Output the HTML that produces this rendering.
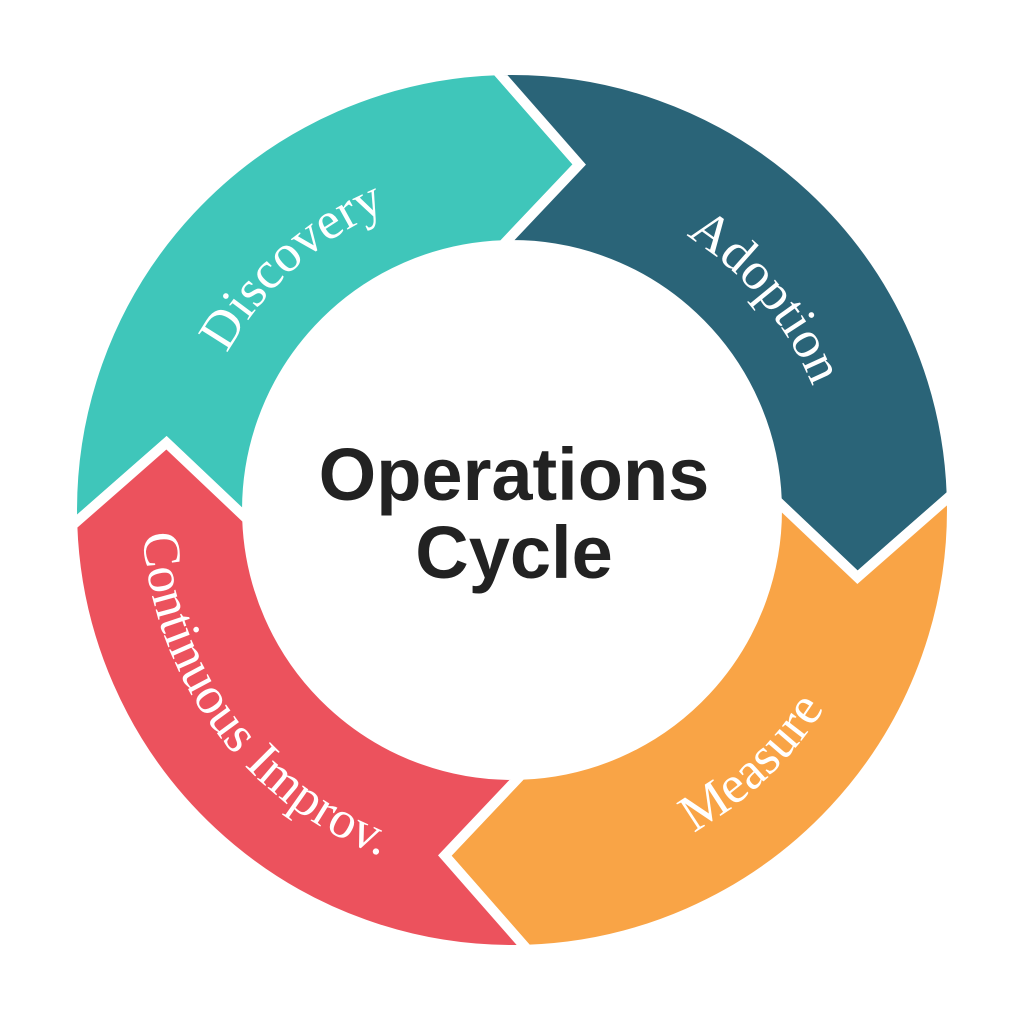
<!DOCTYPE html>
<html><head><meta charset="utf-8"><style>
html,body{margin:0;padding:0;background:#fff;}
svg{display:block;}
</style></head><body>
<svg width="1024" height="1024" viewBox="0 0 1024 1024" xmlns="http://www.w3.org/2000/svg">
<rect width="1024" height="1024" fill="#fff"/>
<defs>
<path id="topArc" d="M 187 510 A 325 325 0 0 1 837 510"/>
<path id="botArc" d="M 142 510 A 370 370 0 0 0 882 510"/>
</defs>
<g stroke="#fff" stroke-width="10" stroke-linejoin="miter">
<path fill="#3fc6ba" d="M 72.3,525.4 A 440 440 0 0 1 496.6,70.3 L 579.2,164.5 L 502.8,245.2 A 265 265 0 0 0 247.2,519.2 L 166.5,442.8 Z"/>
<path fill="#2a6478" d="M 496.6,70.3 A 440 440 0 0 1 951.7,494.6 L 857.5,577.2 L 776.8,500.8 A 265 265 0 0 0 502.8,245.2 L 579.2,164.5 Z"/>
<path fill="#f9a446" d="M 951.7,494.6 A 440 440 0 0 1 527.4,949.7 L 444.8,855.5 L 521.2,774.8 A 265 265 0 0 0 776.8,500.8 L 857.5,577.2 Z"/>
<path fill="#ec525d" d="M 527.4,949.7 A 440 440 0 0 1 72.3,525.4 L 166.5,442.8 L 247.2,519.2 A 265 265 0 0 0 521.2,774.8 L 444.8,855.5 Z"/>
</g>
<g font-family="'Liberation Serif', serif" font-size="53" fill="#fff">
<g transform="rotate(-42 512 510)"><text><textPath href="#topArc" startOffset="50%" text-anchor="middle">Discovery</textPath></text></g>
<g transform="rotate(50 512 510)"><text><textPath href="#topArc" startOffset="50%" text-anchor="middle">Adoption</textPath></text></g>
<g transform="rotate(-43.5 512 510)"><text><textPath href="#botArc" startOffset="50%" text-anchor="middle">Measure</textPath></text></g>
<g transform="rotate(53.5 512 510)"><text><textPath href="#botArc" startOffset="50%" text-anchor="middle">Continuous Improv.</textPath></text></g>
</g>
<g font-family="'Liberation Sans', sans-serif" font-weight="bold" font-size="74" fill="#222" text-anchor="middle">
<text x="514" y="500">Operations</text>
<text x="514" y="578">Cycle</text>
</g>
</svg>
</body></html>
